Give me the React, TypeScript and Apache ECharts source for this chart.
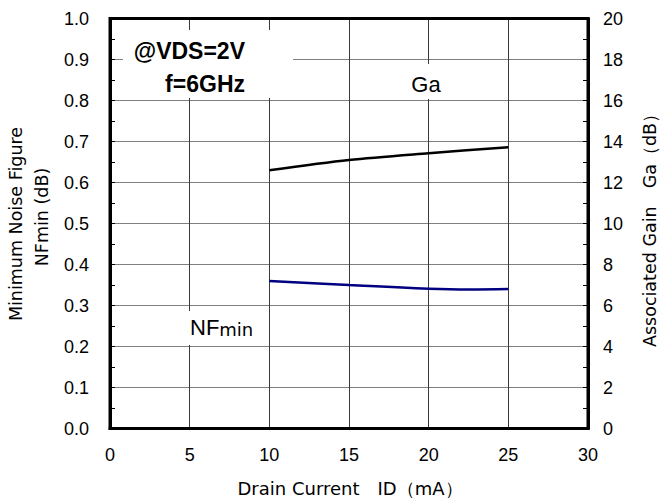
import React, { useEffect, useRef } from "react";
import * as echarts from "echarts";

// Drain current (mA) and measured values
const nfCurrent = [10, 15, 20, 22.5, 25];
const nfValues = [0.36, 0.35, 0.341, 0.339, 0.34];
const gaCurrent = [10, 15, 20, 25];
const gaValues = [12.6, 13.1, 13.43, 13.72];

const xTitle = "Drain Current　ID（mA）";
const leftTitle1 = "Minimum Noise Figure";
const leftTitle2 = "NFmin (dB)";
const rightTitle = "Associated Gain　Ga（dB）";
const conditions1 = "@VDS=2V";
const conditions2 = "f=6GHz";

const LABEL_FONT = "'Liberation Sans', Arial, sans-serif";
const TITLE_FONT = "'DejaVu Sans', sans-serif";

export default function App() {
  const ref = useRef<HTMLDivElement>(null);
  useEffect(() => {
    if (!ref.current) return;
    const chart = echarts.init(ref.current, null, { renderer: "svg" });
    const nfData = nfCurrent.map((x, i) => [x, nfValues[i]]);
    const gaData = gaCurrent.map((x, i) => [x, gaValues[i]]);
    chart.setOption({
      animation: false,
      backgroundColor: "#ffffff",
      grid: {
        left: 110,
        right: 73,
        top: 18.5,
        bottom: 70.5,
        show: true,
        borderColor: "#000",
        borderWidth: 3,
        backgroundColor: "transparent",
        z: 3,
      },
      xAxis: {
        type: "value",
        min: 0,
        max: 30,
        interval: 5,
        axisLine: { show: true, lineStyle: { color: "#000", width: 3 } },
        axisTick: { show: false },
        axisLabel: {
          color: "#000",
          fontSize: 18,
          fontFamily: LABEL_FONT,
          margin: 17,
        },
        splitLine: { show: true, lineStyle: { color: "#3a3a3a", width: 1 } },
      },
      yAxis: [
        {
          type: "value",
          min: 0,
          max: 1,
          interval: 0.1,
          position: "left",
          axisLine: { show: true, lineStyle: { color: "#000", width: 3 } },
          axisTick: { show: true, inside: true, length: 5, lineStyle: { color: "#000" } },
          minorTick: { show: true, splitNumber: 2, length: 5, lineStyle: { color: "#000" } },
          axisLabel: {
            color: "#000",
            fontSize: 18,
            fontFamily: LABEL_FONT,
            margin: 21,
            formatter: (v: number) => v.toFixed(1),
          },
          splitLine: { show: true, lineStyle: { color: "#808080", width: 1 } },
        },
        {
          type: "value",
          min: 0,
          max: 20,
          interval: 2,
          position: "right",
          axisLine: { show: true, lineStyle: { color: "#000", width: 3 } },
          axisTick: { show: true, inside: true, length: 5, lineStyle: { color: "#000" } },
          minorTick: { show: true, splitNumber: 2, length: 5, lineStyle: { color: "#000" } },
          axisLabel: {
            color: "#000",
            fontSize: 18,
            fontFamily: LABEL_FONT,
            margin: 15,
          },
          splitLine: { show: false },
        },
      ],
      series: [
        {
          name: "NFmin",
          type: "line",
          yAxisIndex: 0,
          data: nfData,
          smooth: 0.4,
          showSymbol: false,
          lineStyle: { color: "#000080", width: 2.5 },
          z: 5,
        },
        {
          name: "Ga",
          type: "line",
          yAxisIndex: 1,
          data: gaData,
          smooth: 0.3,
          showSymbol: false,
          lineStyle: { color: "#000", width: 2.5 },
          z: 5,
        },
      ],
      graphic: [
        { type: "rect", z: 10, shape: { x: 123, y: 30, width: 170, height: 68 }, style: { fill: "#fff" } },
        {
          type: "text", z: 11, x: 245, y: 51,
          style: { text: conditions1, fill: "#000", font: `bold 23px ${LABEL_FONT}`, align: "right", verticalAlign: "middle" },
        },
        {
          type: "text", z: 11, x: 245, y: 84,
          style: { text: conditions2, fill: "#000", font: `bold 23px ${LABEL_FONT}`, align: "right", verticalAlign: "middle" },
        },
        { type: "rect", z: 10, shape: { x: 382, y: 64, width: 74, height: 35 }, style: { fill: "#fff" } },
        {
          type: "text", z: 11, x: 426, y: 84,
          style: { text: "Ga", fill: "#000", font: `22px ${LABEL_FONT}`, align: "center", verticalAlign: "middle" },
        },
        { type: "rect", z: 10, shape: { x: 184, y: 311, width: 78, height: 34 }, style: { fill: "#fff" } },
        {
          type: "text", z: 11, x: 190, y: 327,
          style: {
            text: "{a|NF}{b|min}",
            align: "left",
            verticalAlign: "middle",
            rich: {
              a: { fontSize: 22, fontFamily: LABEL_FONT, fill: "#000", color: "#000" },
              b: { fontSize: 18, fontFamily: TITLE_FONT, fill: "#000", color: "#000", verticalAlign: "bottom" },
            },
          },
        },
        {
          type: "text", z: 11, x: 16, y: 224, rotation: Math.PI / 2,
          style: { text: leftTitle1, fill: "#000", font: `17.5px ${TITLE_FONT}`, align: "center", verticalAlign: "middle" },
        },
        {
          type: "text", z: 11, x: 42, y: 217, rotation: Math.PI / 2,
          style: { text: leftTitle2, fill: "#000", font: `17.5px ${TITLE_FONT}`, align: "center", verticalAlign: "middle" },
        },
        {
          type: "text", z: 11, x: 650, y: 226, rotation: Math.PI / 2,
          style: { text: rightTitle, fill: "#000", font: `17.5px ${TITLE_FONT}`, align: "center", verticalAlign: "middle" },
        },
        {
          type: "text", z: 11, x: 350, y: 488,
          style: { text: xTitle, fill: "#000", font: `18px ${TITLE_FONT}`, align: "center", verticalAlign: "middle" },
        },
      ],
    });
    return () => chart.dispose();
  }, []);
  return (
    <div
      ref={ref}
      style={{ position: "absolute", left: 0, top: 0, width: 661, height: 499, background: "#fff" }}
    />
  );
}
